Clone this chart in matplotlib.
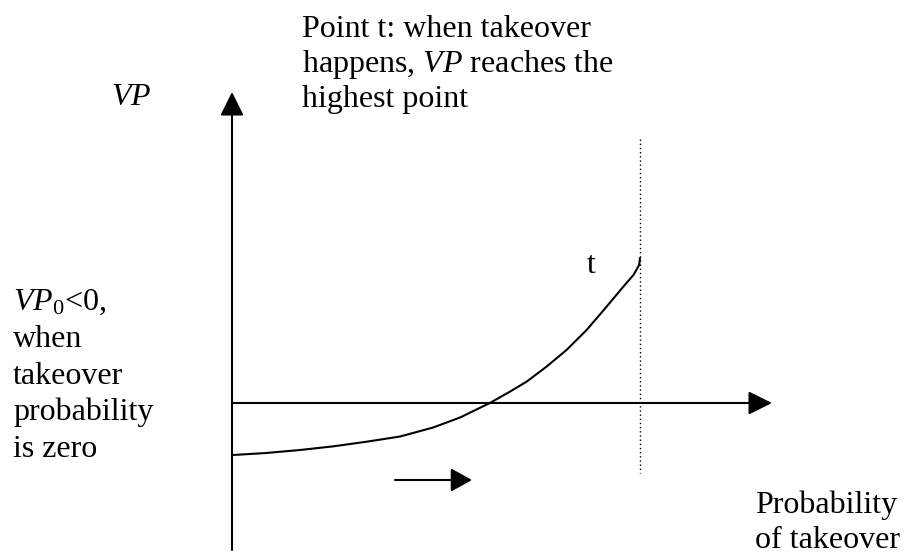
import matplotlib
matplotlib.use("Agg")
import matplotlib.pyplot as plt

plt.rcParams['font.family'] = ['Liberation Serif', 'DejaVu Serif']
plt.rcParams['mathtext.fontset'] = 'custom'
plt.rcParams['mathtext.rm'] = 'Liberation Serif'
plt.rcParams['mathtext.it'] = 'Liberation Serif:italic'

# ---- data (schematic curve: VP vs probability of takeover) ----
prob = [0.0, 0.083, 0.167, 0.248, 0.330, 0.412, 0.493, 0.559, 0.632, 0.681,
        0.722, 0.771, 0.820, 0.869, 0.918, 0.959, 0.984, 0.998, 1.0]
vp = [-0.359, -0.345, -0.324, -0.299, -0.267, -0.231, -0.169, -0.100, 0.0, 0.078,
      0.147, 0.251, 0.366, 0.503, 0.664, 0.802, 0.883, 0.952, 1.0]
point_t_prob = 1.0

title_lines = ["Point t: when takeover", r"happens, $\mathit{VP}$ reaches the", "highest point"]
left_lines = [r"$\mathit{VP}_{\mathrm{0}}$<0,", "when", "takeover", "probability", "is zero"]
x_label_lines = ["Probability", "of takeover"]
y_label = r"$\mathit{VP}$"
t_label = "t"

# ---- layout (pixel-based mapping of the schematic) ----
W, H = 911, 555
OX, OY = 232, 403      # origin in pixels
SX, SY = 408, 145      # pixels per data unit


def dx(px):
    return (px - OX) / SX


def dy(py):
    return (OY - py) / SY


fig = plt.figure(figsize=(W / 100, H / 100), dpi=100)
ax = fig.add_axes([0, 0, 1, 1])
ax.set_xlim(dx(0), dx(W))
ax.set_ylim(dy(H), dy(0))
ax.axis('off')

FS = 23
arrow_style = '-|>,head_length=1.45,head_width=0.72'

# vertical axis
ax.annotate('', xy=(0, dy(92)), xytext=(0, dy(550)),
            arrowprops=dict(arrowstyle=arrow_style, lw=1.5, color='black',
                            shrinkA=0, shrinkB=0, mutation_scale=10))
# horizontal axis
ax.annotate('', xy=(dx(772), 0), xytext=(0, 0),
            arrowprops=dict(arrowstyle=arrow_style, lw=1.5, color='black',
                            shrinkA=0, shrinkB=0, mutation_scale=10))
# small direction arrow
ax.annotate('', xy=(dx(472), dy(480)), xytext=(dx(395), dy(480)),
            arrowprops=dict(arrowstyle='-|>,head_length=1.3,head_width=0.72', lw=1.5,
                            color='black', shrinkA=0, shrinkB=0, mutation_scale=10))

# dotted vertical line at point t
ax.plot([point_t_prob, point_t_prob], [dy(139), dy(473)], color='black', lw=1.0,
        linestyle=(0, (1, 2)))

# curve
ax.plot(prob, vp, color='black', lw=1.5, solid_joinstyle='round', solid_capstyle='round')

# texts
for i, s in enumerate(title_lines):
    ax.text(dx(302), dy(37 + 35 * i), s, fontsize=FS, va='baseline', ha='left')
ax.text(dx(111), dy(105), y_label, fontsize=FS, va='baseline', ha='left')
ax.text(dx(587), dy(273), t_label, fontsize=FS, va='baseline', ha='left')
for i, s in enumerate(left_lines):
    ax.text(dx(13), dy(310 + 36.8 * i), s, fontsize=FS, va='baseline', ha='left')
ax.text(dx(755), dy(513), x_label_lines[0], fontsize=FS, va='baseline', ha='left')
ax.text(dx(755), dy(555), x_label_lines[1], fontsize=FS, va='bottom', ha='left')

fig.savefig('out.png', dpi=100)
